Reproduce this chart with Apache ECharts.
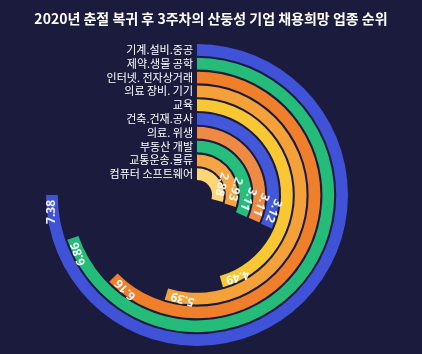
<!DOCTYPE html>
<html>
<head>
<meta charset="utf-8">
<script src="https://cdn.jsdelivr.net/npm/echarts@6/dist/echarts.min.js"></script>
<style>
    html, body { margin: 0; padding: 0; background: #1b1c3d; }
    #chart { width: 422px; height: 354px; }
</style>
</head>
<body>
<div id="chart"></div>
<script>
// 안쪽 → 바깥쪽 순서
const categories = ['컴퓨터 소프트웨어', '교통운송.물류', '부동산 개발', '의료. 위생', '건축.건재.공사',
    '교육', '의료 장비. 기기', '인터넷. 전자상거래', '제약.생물 공학', '기계.설비.중공']
const values = [2.88, 2.93, 3.11, 3.11, 3.12, 4.49, 5.39, 6.16, 6.86, 7.38]
const colors = ['#fdd677', '#f5a542', '#27bd7d', '#ef8a44', '#4358d9',
    '#f8c733', '#f4a13a', '#f07f2c', '#25bb78', '#3f52d8']

const chart = echarts.init(document.getElementById('chart'))

const option = {
    backgroundColor: '#1b1c3d',
    title: {
        text: '2020년 춘절 복귀 후 3주차의 산둥성 기업 채용희망 업종 순위',
        left: 'center',
        top: 7,
        textStyle: {
            color: '#fff',
            fontSize: 14,
            fontWeight: 'bold',
            fontFamily: 'Noto Sans CJK KR'
        }
    },
    polar: {
        center: [197, 195],
        radius: [14, 152]
    },
    angleAxis: {
        max: 7.38 / 0.75,
        startAngle: 90,
        show: false
    },
    radiusAxis: {
        type: 'category',
        data: categories,
        axisLine: { show: false },
        axisTick: { show: false },
        axisLabel: {
            interval: 0,
            color: '#fff',
            fontSize: 11,
            margin: 4,
            fontFamily: 'Noto Sans CJK KR'
        },
        z: 10
    },
    series: [{
        type: 'bar',
        coordinateSystem: 'polar',
        data: values.map((v, i) => ({ value: v, itemStyle: { color: colors[i] } })),
        barCategoryGap: '15%',
        label: {
            show: true,
            position: 'insideEnd',
            color: 'rgba(255,255,255,0.92)',
            fontSize: 12,
            fontWeight: 'bold',
            fontFamily: 'Noto Sans'
        }
    }]
}

chart.setOption(option)
</script>
</body>
</html>
